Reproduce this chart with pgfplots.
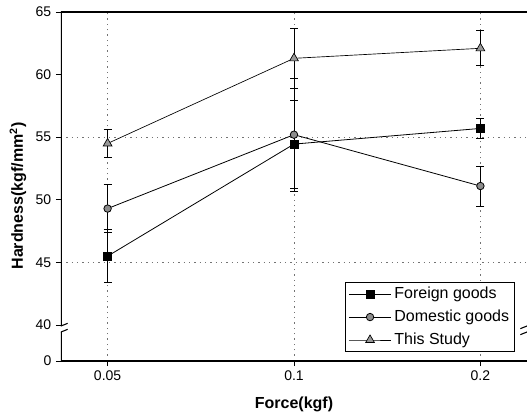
\documentclass[border=0pt]{standalone}
\usepackage{pgfplots}
\pgfplotsset{compat=1.18}
\usepackage{fontspec}
\setmainfont{Liberation Sans}
\pgfplotsset{
  herr/.style={error bars/.cd, y dir=both, y explicit,
    error bar style={line width=0.6pt, solid, black},
    error mark options={rotate=90, line width=0.6pt, mark size=3pt, black, solid}},
}
\begin{document}
\begin{tikzpicture}
\begin{axis}[
  name=ax,
  scale only axis,
  width=349.5pt, height=261.75pt,
  xmin=-0.25, xmax=2.25,
  ymin=37.125, ymax=65,
  axis line style={draw=none},
  xtick={0,1,2}, xticklabels={0.05,0.1,0.2},
  ytick={37.125,40,45,50,55,60,65},
  yticklabels={0,40,45,50,55,60,65},
  xtick pos=bottom, ytick pos=left,
  tick align=outside, major tick length=3.75pt,
  tick style={black, line width=0.7pt},
  tick label style={font=\fontsize{10.5}{12}\selectfont},
  xmajorgrids,
  extra y ticks={45,55}, extra y tick labels={},
  extra y tick style={ymajorgrids=true, major tick length=0pt},
  grid style={black!55, line width=0.5pt, dash pattern=on 1pt off 3pt},
  xlabel={\bfseries Force(kgf)},
  ylabel={\bfseries Hardness(kgf/mm\textsuperscript{2})},
  label style={font=\fontsize{12}{14}\selectfont},
  xlabel style={at={(axis description cs:0.5,-0.123)}, anchor=center},
  ylabel style={at={(axis description cs:-0.0923,0.473)}, anchor=center},
  legend style={at={(axis description cs:0.974,0.026)}, anchor=south east,
    font=\fontsize{12}{14}\selectfont, draw=black, line width=0.7pt,
    row sep=3pt, inner xsep=2pt, inner ysep=1.5pt},
  legend cell align=left,
  legend image code/.code={
    \draw[mark repeat=2, mark phase=2] plot coordinates {(0cm,0cm) (0.56cm,0cm) (1.12cm,0cm)};
  },
]
\addplot[black, line width=0.6pt, mark=square*, mark size=3pt,
  mark options={fill=black}, herr]
  coordinates {(0,45.5) +- (0,2.1) (1,54.45) +- (0,3.5) (2,55.7) +- (0,0.8)};
\addlegendentry{Foreign goods}
\addplot[black, line width=0.6pt, mark=*, mark size=2.8pt,
  mark options={fill=black!45}, herr]
  coordinates {(0,49.3) +- (0,1.9) (1,55.2) +- (0,4.5) (2,51.1) +- (0,1.6)};
\addlegendentry{Domestic goods}
\addplot[black, line width=0.5pt, mark=triangle*, mark size=3.8pt,
  mark options={fill=black!40}, herr]
  coordinates {(0,54.5) +- (0,1.1) (1,61.3) +- (0,2.4) (2,62.1) +- (0,1.4)};
\addlegendentry{This Study}
% frame with broken axes
\draw[line width=1.2pt] (axis cs:-0.25,37.125) -- (axis cs:-0.25,39.44);
\draw[line width=1.2pt] (axis cs:-0.25,39.92) -- (axis cs:-0.25,65) -- (axis cs:2.25,65);
\draw[line width=1.2pt] (axis cs:-0.25,37.125) -- (axis cs:2.25,37.125);
\draw[line width=0.8pt] ([shift={(-5pt,-2pt)}]axis cs:-0.25,39.92) -- ([shift={(5pt,2pt)}]axis cs:-0.25,39.92);
\draw[line width=0.8pt] ([shift={(-5pt,-2pt)}]axis cs:-0.25,39.44) -- ([shift={(5pt,2pt)}]axis cs:-0.25,39.44);
\draw[line width=0.8pt] ([shift={(-5pt,-2pt)}]axis cs:2.25,39.92) -- ([shift={(5pt,2pt)}]axis cs:2.25,39.92);
\draw[line width=0.8pt] ([shift={(-5pt,-2pt)}]axis cs:2.25,39.44) -- ([shift={(5pt,2pt)}]axis cs:2.25,39.44);
\end{axis}
\pgfresetboundingbox
\path ([xshift=-45.75pt,yshift=-42pt]ax.south west) rectangle ([yshift=9pt]ax.north east);
\end{tikzpicture}
\end{document}
